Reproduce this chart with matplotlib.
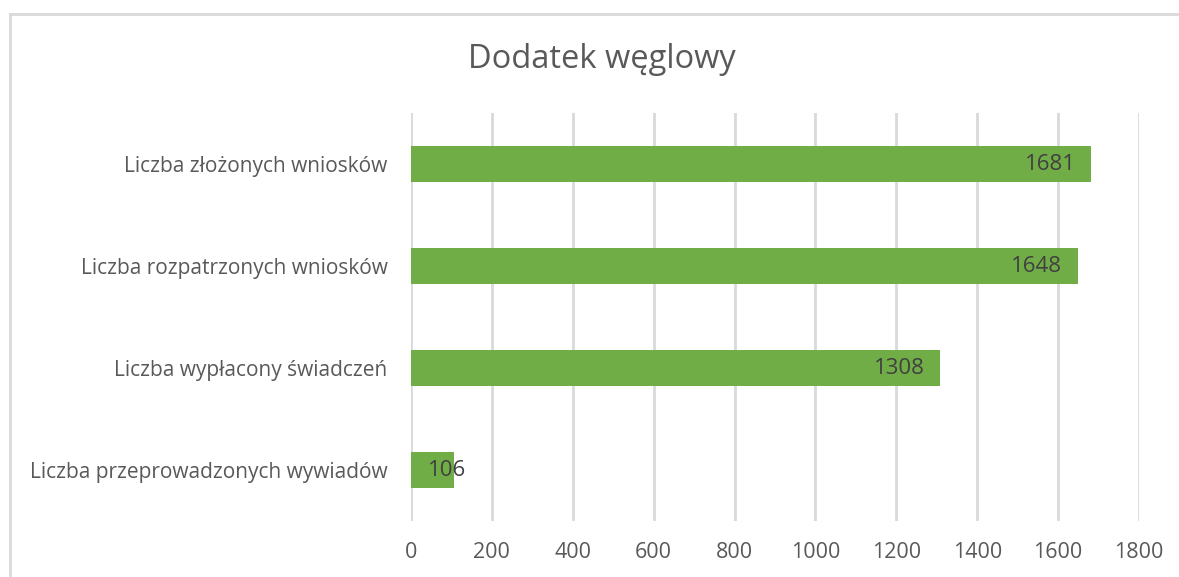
import matplotlib
matplotlib.use("Agg")
import matplotlib.pyplot as plt
from matplotlib.lines import Line2D

categories = ["Liczba złożonych wniosków", "Liczba rozpatrzonych wniosków",
              "Liczba wypłacony świadczeń", "Liczba przeprowadzonych wywiadów"]
values = [1681, 1648, 1308, 106]
xticks = [0, 200, 400, 600, 800, 1000, 1200, 1400, 1600, 1800]
title = "Dodatek węglowy"

plt.rcParams['font.family'] = ['Open Sans', 'DejaVu Sans']

W, H = 1179, 577
fig = plt.figure(figsize=(W / 100, H / 100), dpi=100)
ax = fig.add_axes([411 / W, 1 - 521 / H, (1139 - 411) / W, (521 - 113) / H])

ypos = list(range(len(categories)))
ax.barh(ypos, values, height=0.35, color="#70AD47", zorder=2)
ax.set_ylim(len(categories) - 0.5, -0.5)
ax.set_xlim(0, 1800)
ax.set_xticks(xticks)
ax.set_xticklabels([str(t) for t in xticks])
ax.set_yticks(ypos)
ax.set_yticklabels(categories)
ax.tick_params(axis='x', length=0, pad=15, labelsize=15.5, labelcolor="#595959")
ax.tick_params(axis='y', length=0, pad=17, labelsize=15, labelcolor="#595959")
ax.grid(axis='x', color="#D9D9D9", linewidth=2, zorder=0)
for s in ax.spines.values():
    s.set_visible(False)

for y, v in zip(ypos, values):
    if v < 300:
        ax.annotate(str(v), (0, y), xytext=(12, 0), textcoords='offset points',
                    ha='left', va='center', fontsize=16, color="#404040", zorder=3)
    else:
        ax.annotate(str(v), (v, y), xytext=(-11, 0), textcoords='offset points',
                    ha='right', va='center', fontsize=16, color="#404040", zorder=3)

fig.text(602 / W, 1 - 60 / H, title, ha='center', va='center', fontsize=23.5, color="#595959")

fig.add_artist(Line2D([10 / W, 1], [1 - 14 / H, 1 - 14 / H], transform=fig.transFigure, color="#D9D9D9", linewidth=2))
fig.add_artist(Line2D([10 / W, 10 / W], [0, 1 - 14 / H], transform=fig.transFigure, color="#D9D9D9", linewidth=2))

fig.savefig("out.png", dpi=100)
